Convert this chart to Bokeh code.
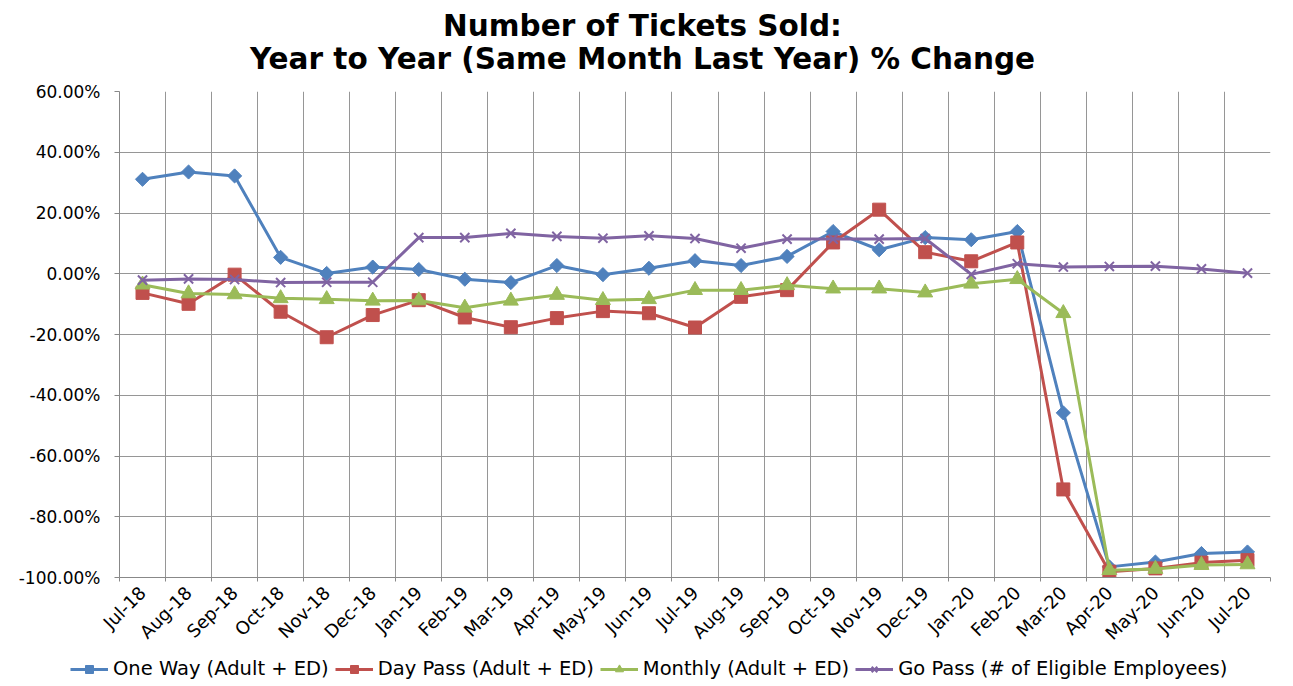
import numpy as np
from bokeh.plotting import figure
from bokeh.models import FixedTicker, Legend, LegendItem, Label
from bokeh.embed import file_html
from bokeh.resources import INLINE

months = ["Jul-18", "Aug-18", "Sep-18", "Oct-18", "Nov-18", "Dec-18",
          "Jan-19", "Feb-19", "Mar-19", "Apr-19", "May-19", "Jun-19",
          "Jul-19", "Aug-19", "Sep-19", "Oct-19", "Nov-19", "Dec-19",
          "Jan-20", "Feb-20", "Mar-20", "Apr-20", "May-20", "Jun-20", "Jul-20"]

one_way = [31.1, 33.5, 32.2, 5.4, 0.1, 2.2, 1.4, -1.8, -2.9, 2.7, -0.3, 1.8,
           4.3, 2.7, 5.7, 13.9, 7.9, 11.9, 11.2, 13.9, -45.8, -96.5, -94.9, -92.1, -91.6]
day_pass = [-6.3, -9.9, -0.3, -12.5, -20.9, -13.6, -8.7, -14.4, -17.6, -14.6, -12.3, -13.0,
            -17.7, -7.6, -5.4, 10.3, 21.1, 7.1, 4.1, 10.3, -71.0, -98.1, -97.0, -95.1, -94.3]
monthly = [-3.6, -6.5, -6.8, -8.1, -8.4, -8.9, -8.8, -11.2, -8.9, -7.0, -8.7, -8.4,
           -5.4, -5.4, -3.8, -4.9, -4.9, -6.2, -3.3, -1.8, -13.0, -97.6, -97.2, -95.9, -95.7]
go_pass = [-2.1, -1.7, -1.9, -2.9, -2.8, -2.8, 11.9, 11.9, 13.3, 12.3, 11.7, 12.5,
           11.6, 8.4, 11.4, 11.4, 11.4, 11.6, -0.2, 3.3, 2.2, 2.4, 2.5, 1.6, 0.2]

series_names = ["One Way (Adult + ED)", "Day Pass (Adult + ED)",
                "Monthly (Adult + ED)", "Go Pass (# of Eligible Employees)"]
title_lines = ["Number of Tickets Sold:", "Year to Year (Same Month Last Year) % Change"]
y_ticks = [-100, -80, -60, -40, -20, 0, 20, 40, 60]

FONT = "DejaVu Sans"
W = 1284
n = len(months)
xc = [i + 0.5 for i in range(n)]
bounds = list(range(n + 1))


def strip(height):
    f = figure(width=W, height=height, x_range=(0, 1), y_range=(1000, 1001),
               output_backend="svg", toolbar_location=None,
               x_axis_location=None, y_axis_location=None,
               min_border_left=0, min_border_right=0, min_border_top=0, min_border_bottom=0)
    f.outline_line_color = None
    f.xgrid.visible = False
    f.ygrid.visible = False
    f.border_fill_color = "white"
    f.background_fill_color = "white"
    f.title.text = ""
    return f


# ---- title strip ----
head = strip(75)
for txt, yy in zip(title_lines, [50, 17]):
    head.add_layout(Label(x=W / 2, y=yy, x_units="screen", y_units="screen", text=txt,
                          text_align="center", text_baseline="middle", text_font=FONT,
                          text_font_size="29.5px", text_font_style="bold", text_color="black"))

# ---- chart ----
p = figure(width=W, height=579, x_range=(0, n), y_range=(y_ticks[0], y_ticks[-1]),
           output_backend="svg", toolbar_location=None,
           min_border_left=119, min_border_right=14, min_border_top=16, min_border_bottom=71)
p.outline_line_color = None
p.background_fill_color = "white"
p.border_fill_color = "white"
p.title.text = ""

p.xgrid.ticker = FixedTicker(ticks=bounds)
p.ygrid.ticker = FixedTicker(ticks=y_ticks)
for g in (p.xgrid, p.ygrid):
    g.grid_line_color = "#969696"
    g.grid_line_width = 1

p.xaxis.ticker = FixedTicker(ticks=xc, minor_ticks=bounds)
p.xaxis.major_label_overrides = {x: m for x, m in zip(xc, months)}
p.xaxis.major_label_orientation = np.pi / 4
p.xaxis.major_tick_line_color = None
p.xaxis.minor_tick_in = 0
p.xaxis.minor_tick_out = 4
p.xaxis.minor_tick_line_color = "#888888"
p.xaxis.major_label_standoff = 6
p.yaxis.ticker = FixedTicker(ticks=y_ticks)
p.yaxis.major_label_overrides = {v: f"{v:.2f}%" for v in y_ticks}
p.yaxis.minor_tick_line_color = None
p.yaxis.major_tick_in = 0
p.yaxis.major_tick_out = 5
p.yaxis.major_tick_line_color = "#888888"
p.yaxis.major_label_standoff = 14
for ax in (p.xaxis, p.yaxis):
    ax.axis_line_color = "#888888"
    ax.major_label_text_font = FONT
    ax.major_label_text_color = "black"
p.xaxis.major_label_text_font_size = "18px"
p.yaxis.major_label_text_font_size = "17px"

colors = ["#4F81BD", "#C0504D", "#9BBB59", "#8064A2"]
data = [one_way, day_pass, monthly, go_pass]
markers = [("square", 10, np.pi / 4), ("square", 13, 0), ("triangle", 15, 0), ("x", 13, 0)]


def draw(fig):
    out = []
    for vals, c, (mk, sz, ang) in zip(data, colors, markers):
        ln = fig.line(xc, vals, line_color=c, line_width=3)
        if mk == "x":
            sc = fig.scatter(xc, vals, marker="x", size=sz, line_color=c, line_width=2)
        else:
            sc = fig.scatter(xc, vals, marker=mk, size=sz, angle=ang, fill_color=c, line_color=c)
        out.append((ln, sc))
    return out


draw(p)

# ---- legend strip (same series drawn outside its visible range; legend only) ----
lg = strip(26)
rends = draw(lg)
items = [LegendItem(label=name, renderers=[ln, sc]) for name, (ln, sc) in zip(series_names, rends)]
legend = Legend(items=items, orientation="horizontal", location=(70, 0),
                border_line_color=None, background_fill_alpha=0,
                label_text_font=FONT, label_text_font_size="19.5px", label_text_color="black",
                glyph_width=38, glyph_height=20, spacing=6, label_standoff=5, padding=2, margin=0)
lg.add_layout(legend, "center")

open("out.html", "w").write(file_html([head, p, lg], INLINE))
